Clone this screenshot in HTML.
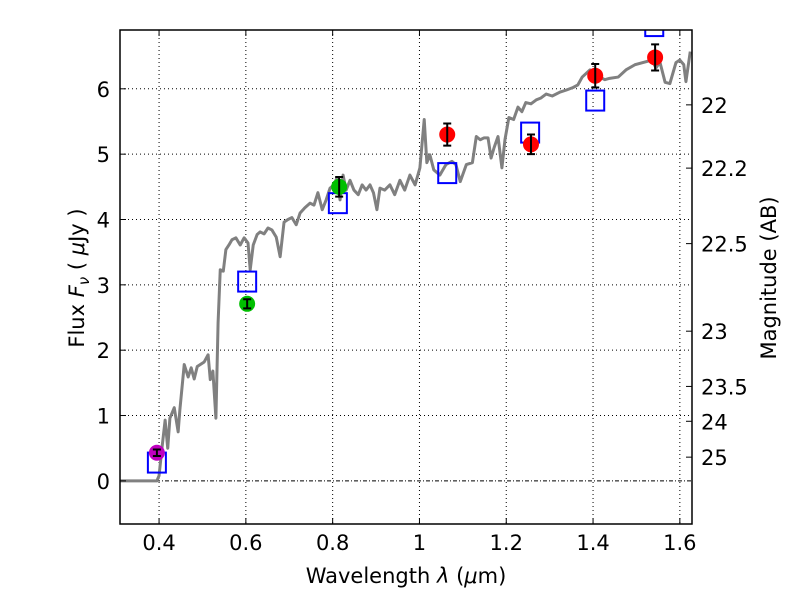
<!DOCTYPE html>
<html><head><meta charset="utf-8"><style>
body{margin:0;background:#fff}
svg text{font-family:"DejaVu Sans","Liberation Sans",sans-serif;fill:#000}
</style></head><body>
<svg id="chart" width="800" height="600" xmlns="http://www.w3.org/2000/svg">
<rect width="800" height="600" fill="#fff"/>
<g id="grid"></g>
<g id="plot"></g>
<g id="axes"></g>
<text x="406" y="583" font-size="21" text-anchor="middle">Wavelength  <tspan font-style="italic">λ</tspan> (<tspan font-style="italic">μ</tspan>m)</text>
<text transform="translate(84,278) rotate(-90)" font-size="21" text-anchor="middle">Flux  <tspan font-style="italic">F<tspan font-size="15" dy="5">ν</tspan></tspan><tspan dy="-5">  ( </tspan><tspan font-style="italic">μ</tspan>Jy )</text>
<text transform="translate(776,278) rotate(-90)" font-size="21" text-anchor="middle">Magnitude (AB)</text>
</svg>
<script>
const xTicks=[0.4,0.6,0.8,1.0,1.2,1.4,1.6];
const xTickLabels=["0.4","0.6","0.8","1","1.2","1.4","1.6"];
const yTicks=[0,1,2,3,4,5,6];
const magTicks=[22,22.2,22.5,23,23.5,24,25];
const magLabels=["22","22.2","22.5","23","23.5","24","25"];
const specWave=[0.31,0.395,0.400,0.407,0.414,0.42,0.425,0.435,0.444,0.448,0.458,0.467,0.474,0.481,0.488,0.504,0.513,0.518,0.524,0.531,0.536,0.541,0.548,0.554,0.561,0.568,0.577,0.587,0.596,0.605,0.61,0.617,0.626,0.633,0.642,0.651,0.66,0.67,0.679,0.688,0.697,0.706,0.716,0.725,0.736,0.748,0.757,0.766,0.776,0.785,0.794,0.803,0.81,0.817,0.824,0.831,0.84,0.849,0.859,0.868,0.877,0.886,0.894,0.902,0.909,0.92,0.932,0.943,0.955,0.966,0.978,0.99,1.001,1.011,1.017,1.024,1.033,1.047,1.061,1.075,1.084,1.094,1.108,1.122,1.131,1.14,1.149,1.158,1.165,1.172,1.181,1.19,1.197,1.206,1.217,1.227,1.236,1.245,1.257,1.269,1.28,1.292,1.306,1.324,1.338,1.354,1.365,1.375,1.393,1.404,1.416,1.427,1.438,1.458,1.476,1.497,1.536,1.545,1.554,1.566,1.577,1.591,1.6,1.609,1.614,1.624];
const specFlux=[0,0,0.08,0.52,0.93,0.5,0.96,1.12,0.75,1.09,1.78,1.59,1.73,1.56,1.75,1.82,1.93,1.55,1.68,0.96,2.42,3.23,3.21,3.54,3.61,3.69,3.72,3.61,3.72,3.64,3.23,3.61,3.77,3.81,3.78,3.87,3.84,3.73,3.43,3.96,4.0,4.03,3.92,4.1,4.18,4.25,4.22,4.41,4.15,4.3,4.48,4.53,4.64,4.3,4.68,4.45,4.6,4.45,4.38,4.53,4.45,4.53,4.41,4.15,4.48,4.45,4.53,4.38,4.6,4.45,4.68,4.53,4.79,5.53,4.87,4.99,4.76,4.68,4.84,4.89,4.84,4.58,4.84,4.87,5.27,5.22,5.25,5.25,4.94,5.1,5.27,4.79,5.22,5.56,5.53,5.72,5.65,5.79,5.77,5.83,5.86,5.92,5.89,5.95,5.98,6.02,6.06,6.18,6.29,6.26,6.18,6.14,6.16,6.18,6.29,6.37,6.44,6.32,6.41,6.1,6.08,6.4,6.44,6.37,6.11,6.57];
const ptWave=[0.395,0.603,0.815,1.064,1.257,1.405,1.543];
const ptFlux=[0.43,2.71,4.5,5.3,5.15,6.2,6.48];
const ptErr=[0.05,0.07,0.15,0.17,0.15,0.18,0.2];
const ptColor=["#bf00bf","#00bf00","#00bf00","#ff0000","#ff0000","#ff0000","#ff0000"];
const modelWave=[0.395,0.603,0.812,1.064,1.255,1.405,1.541];
const modelFlux=[0.28,3.05,4.25,4.71,5.33,5.82,6.96];

const L=120,R=692,T=30,B=524,XMIN=0.31,XMAX=1.628,YMIN=-0.66,YMAX=6.9;
const sx=v=>L+(v-XMIN)/(XMAX-XMIN)*(R-L);
const sy=v=>B-(v-YMIN)/(YMAX-YMIN)*(B-T);
const NS="http://www.w3.org/2000/svg";
function mk(tag,attrs,parent){const e=document.createElementNS(NS,tag);for(const k in attrs)e.setAttribute(k,attrs[k]);parent.appendChild(e);return e;}
const grid=document.getElementById('grid'),plot=document.getElementById('plot'),axes=document.getElementById('axes');
const defs=mk('defs',{},document.getElementById('chart'));
const cp=mk('clipPath',{id:'clip'},defs);mk('rect',{x:L,y:T,width:R-L,height:B-T},cp);
plot.setAttribute('clip-path','url(#clip)');
xTicks.forEach((v,i)=>{
 const g=mk('line',{x1:sx(v),x2:sx(v),y1:T,y2:B,stroke:'#000','stroke-width':1,'stroke-dasharray':'1,3'},grid);
 
 
 mk('line',{x1:sx(v),x2:sx(v),y1:B,y2:B-6,stroke:'#000'},axes);
 mk('line',{x1:sx(v),x2:sx(v),y1:T,y2:T+6,stroke:'#000'},axes);
 const t=mk('text',{x:sx(v),y:B+26,'font-size':21,'text-anchor':'middle'},axes);t.textContent=xTickLabels[i];
 
 
});
yTicks.forEach(v=>{
 const g=mk('line',{x1:L,x2:R,y1:sy(v),y2:sy(v),stroke:'#000','stroke-width':1,'stroke-dasharray':v===0?'4,2,1,2':'1,3'},grid);
 
 
 mk('line',{x1:L,x2:L+6,y1:sy(v),y2:sy(v),stroke:'#000'},axes);
 const t=mk('text',{x:L-10,y:sy(v)+8,'font-size':21,'text-anchor':'end'},axes);t.textContent=String(v);
 
 
});
magTicks.forEach((m,i)=>{
 const f=Math.pow(10,(23.9-m)/2.5);const y=sy(f);
 mk('line',{x1:R,x2:R-6,y1:y,y2:y,stroke:'#000'},axes);
 const t=mk('text',{x:R+9,y:y+8,'font-size':21},axes);t.textContent=magLabels[i];
 
 
});
const sp=mk('polyline',{points:specWave.map((w,i)=>sx(w)+','+sy(specFlux[i])).join(' '),fill:'none',stroke:'#808080','stroke-width':3,'stroke-linejoin':'round'},plot);


modelWave.forEach((w,i)=>{
 const r=mk('rect',{x:sx(w)-9,y:sy(modelFlux[i])-10,width:18,height:20,fill:'none',stroke:'#0000ff','stroke-width':2},plot);
 
 
});
ptWave.forEach((w,i)=>{
 const c=mk('circle',{cx:sx(w),cy:sy(ptFlux[i]),r:8,fill:ptColor[i]},plot);
 
 
 const x=sx(w),y1=sy(ptFlux[i]+ptErr[i]),y2=sy(ptFlux[i]-ptErr[i]);
 const e=mk('path',{d:`M${x},${y1}V${y2}M${x-4},${y1}H${x+4}M${x-4},${y2}H${x+4}`,stroke:'#000','stroke-width':2,fill:'none'},plot);
 
 
});
mk('rect',{x:L,y:T,width:R-L,height:B-T,fill:'none',stroke:'#000','stroke-width':1.5},axes);
</script>
</body></html>
